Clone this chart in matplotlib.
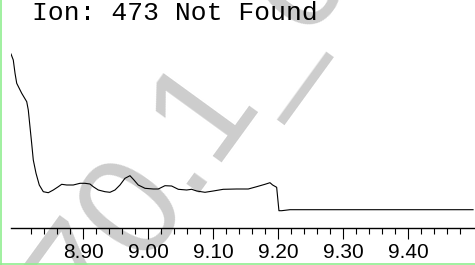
import matplotlib
matplotlib.use("Agg")
import matplotlib.pyplot as plt
from matplotlib.lines import Line2D
import numpy as np

# retention time (min) and abundance
rt = [8.789, 8.7925, 8.7952, 8.7978, 8.8055, 8.8132, 8.8156, 8.8182, 8.8208, 8.8233,
      8.8275, 8.8325, 8.8387, 8.8464, 8.8541, 8.8618, 8.8670, 8.8747, 8.8848, 8.8952,
      8.9028, 8.9105, 8.9156, 8.9233, 8.9336, 8.9413, 8.9490, 8.9567, 8.9644, 8.9721,
      8.9782, 8.9848, 8.9952, 9.0080, 9.0156, 9.0259, 9.0362, 9.0464, 9.0593, 9.0670,
      9.0747, 9.0875, 9.1002, 9.1156, 9.1362, 9.1541, 9.1670, 9.1798, 9.1875, 9.1916,
      9.1978, 9.2013, 9.2055, 9.2183, 9.500]
abund = [174, 168, 154.7, 144.7, 134.7, 126.3, 118, 101.3, 84.7, 68,
         54.7, 43, 36.3, 35.3, 38, 41.3, 43.7, 43, 43, 44.7,
         44.7, 44, 41.3, 38, 36.3, 35.7, 38, 43, 49.7, 52.3,
         48, 43, 39.7, 39, 39, 42.3, 42, 38.7, 38, 38.7,
         37, 35.7, 37, 38.7, 39, 39, 41.3, 43.7, 45.3, 43,
         40.7, 17.3, 17.3, 18.3, 18.3]

major_ticks = [8.90, 9.00, 9.10, 9.20, 9.30, 9.40]
title = "Ion: 473 Not Found"
watermark = "70.1_c"

fig = plt.figure(figsize=(4.75, 2.65), dpi=100)
ax = fig.add_axes([11 / 475, 37 / 265, 1 - 11 / 475, 228 / 265])
ax.set_facecolor("none")

ax.plot(rt, abund, color="black", lw=0.8)
ax.set_xlim(8.789, 9.503)
ax.set_ylim(0, 228)

for s in ["left", "right", "top"]:
    ax.spines[s].set_visible(False)
ax.spines["bottom"].set_linewidth(1.0)
ax.set_yticks([])

minor = [t for t in np.round(np.arange(8.82, 9.501, 0.02), 2) if round(t * 10, 6) % 1 != 0]
ax.set_xticks(major_ticks)
ax.set_xticklabels(["%.2f" % t for t in major_ticks])
ax.set_xticks(minor, minor=True)
ax.tick_params(axis="x", which="major", direction="out", length=8, width=0.8, pad=2.8,
               labelsize=15)
ax.tick_params(axis="x", which="minor", direction="out", length=4.4, width=0.8)
for lab in ax.get_xticklabels():
    lab.set_family("Liberation Sans")

fig.text(32 / 475, 1 - 20 / 265, title, family="Liberation Mono", fontsize=19,
         ha="left", va="baseline")

# faint diagonal watermark behind the plot
fig.text(95 / 475, (265 - 327) / 265, watermark, family="Liberation Sans", fontsize=104,
         color="#cdcdcd", rotation=54, rotation_mode="anchor", ha="left", va="baseline",
         zorder=-1)

# light green frame on left and bottom edges
fig.add_artist(Line2D([0.6 / 475, 0.6 / 475], [0, 1], transform=fig.transFigure,
                      color="#90ee90", lw=1.2))
fig.add_artist(Line2D([0, 1], [0.6 / 265, 0.6 / 265], transform=fig.transFigure,
                      color="#90ee90", lw=1.2))

fig.savefig("out.png", dpi=100)
